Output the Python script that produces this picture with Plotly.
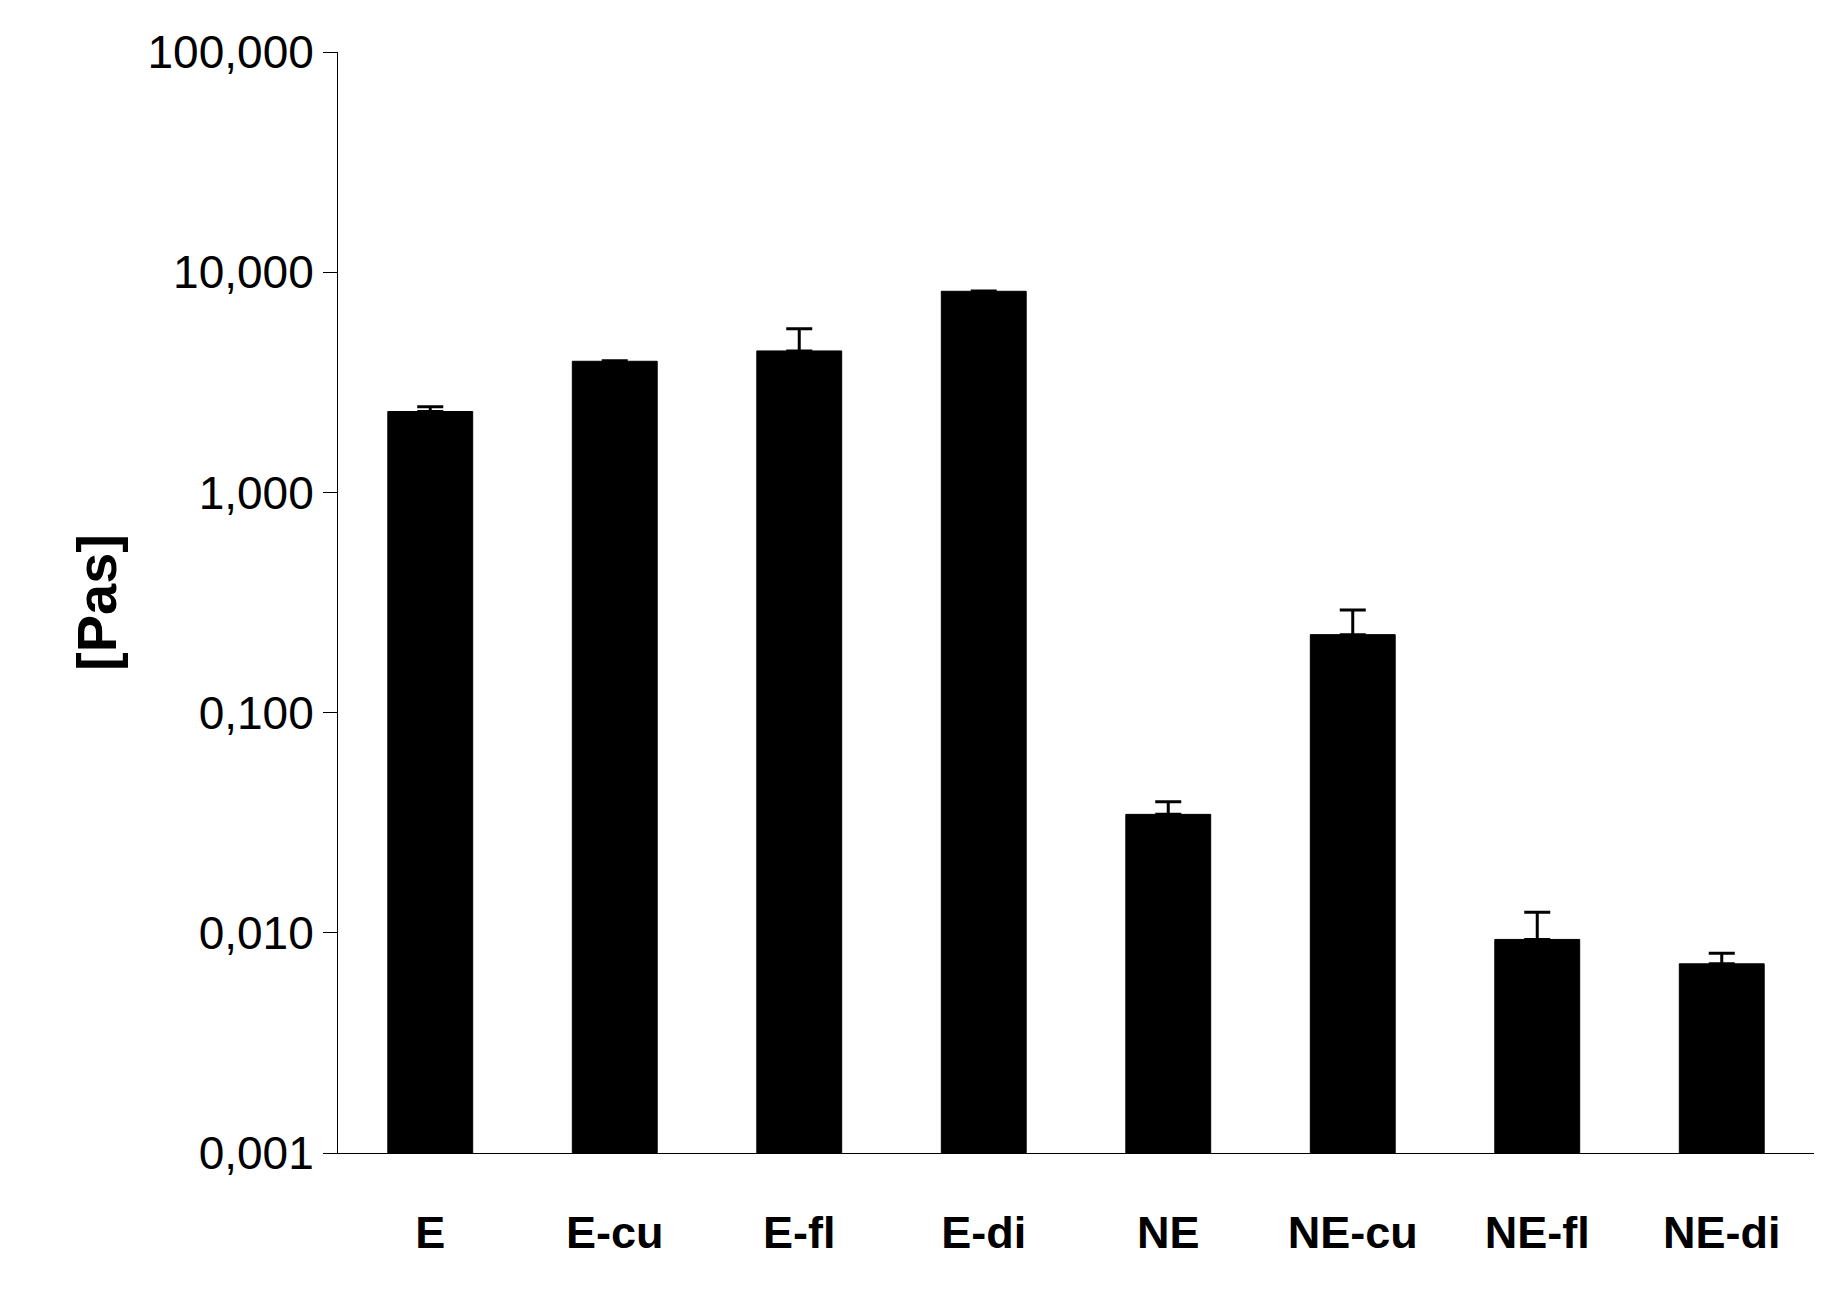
import plotly.graph_objects as go

categories = ["E", "E-cu", "E-fl", "E-di", "NE", "NE-cu", "NE-fl", "NE-di"]
values = [2.33, 3.94, 4.39, 8.19, 0.0345, 0.226, 0.00933, 0.00723]
upper = [2.45, 3.96, 5.54, 8.22, 0.0394, 0.292, 0.0124, 0.00807]
errors = [u - v for u, v in zip(upper, values)]

tick_vals = [0.001, 0.01, 0.1, 1, 10, 100]
tick_text = ["0,001", "0,010", "0,100", "1,000", "10,000", "100,000"]

fig = go.Figure()
fig.add_trace(go.Bar(
    x=["<b>%s</b>" % c for c in categories], y=values, width=0.46,
    marker=dict(color="black", line=dict(color="black", width=1)),
    error_y=dict(type="data", array=errors, arrayminus=[0] * len(errors),
                 symmetric=False, color="black", thickness=3, width=13),
))
fig.update_layout(
    width=1832, height=1292,
    paper_bgcolor="white", plot_bgcolor="white",
    margin=dict(l=330, r=26, t=44, b=147),
    showlegend=False,
    font=dict(family="Liberation Sans, Arial", color="black"),
    xaxis=dict(showline=True, linecolor="black", linewidth=1, ticks="",
               tickfont=dict(size=45, family="Liberation Sans, Arial"),
               ticklabelstandoff=40),
    yaxis=dict(type="log", range=[-3, 2], tickvals=tick_vals, ticktext=tick_text,
               showline=True, linecolor="black", linewidth=1, showgrid=False,
               ticks="outside", ticklen=14, tickcolor="black",
               tickfont=dict(size=46),
               title=dict(text="<b>[Pas]</b>", font=dict(size=56), standoff=12)),
)
fig.write_html("out.html")
